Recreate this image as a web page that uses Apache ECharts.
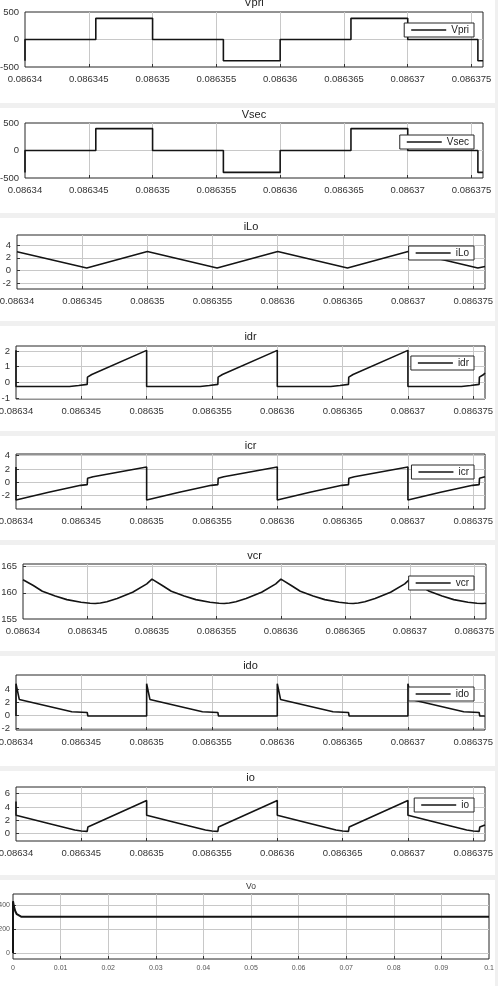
<!DOCTYPE html>
<html>
<head>
<meta charset="utf-8">
<script src="https://cdn.jsdelivr.net/npm/echarts@6/dist/echarts.min.js"></script>
<style>
  html, body { margin: 0; padding: 0; background: #f0f0f0; }
  #main { width: 498px; height: 986px; }
</style>
</head>
<body>
<div id="main"></div>
<script>
// tick values
var xTicks = [0.08634, 0.086345, 0.08635, 0.086355, 0.08636, 0.086365, 0.08637, 0.086375];
var voXTicks = [0, 0.01, 0.02, 0.03, 0.04, 0.05, 0.06, 0.07, 0.08, 0.09, 0.1];

// Vpri / Vsec (square waves)
var vpriT = [0.08634, 0.08634, 0.08634555, 0.08634555, 0.08635, 0.08635, 0.08635555, 0.08635555,
  0.08636, 0.08636, 0.08636555, 0.08636555, 0.08637, 0.08637, 0.0863755, 0.0863755, 0.0863759];
var vpriV = [-385, 0, 0, 385, 385, 0, 0, -385, -385, 0, 0, 385, 385, 0, 0, -385, -385];
var vsecT = [0.08634, 0.08634, 0.08634555, 0.08634555, 0.08635, 0.08635, 0.08635555, 0.08635555,
  0.08636, 0.08636, 0.08636555, 0.08636555, 0.08637, 0.08637, 0.0863755, 0.0863755, 0.0863759];
var vsecV = [-398, 0, 0, 398, 398, 0, 0, -398, -398, 0, 0, 398, 398, 0, 0, -398, -398];

// iLo
var iloT = [0.08634, 0.08634535, 0.08635, 0.08635535, 0.08636, 0.08636535, 0.08637, 0.08637535, 0.0863759];
var iloV = [2.95, 0.4, 3.0, 0.4, 3.0, 0.4, 3.0, 0.4, 0.65];

// idr
var idrT = [0.08634, 0.08634, 0.0863441, 0.0863448, 0.08634545, 0.08634547, 0.0863458, 0.08635,
  0.08635, 0.0863541, 0.0863548, 0.08635545, 0.08635547, 0.0863558, 0.08636,
  0.08636, 0.0863641, 0.0863648, 0.08636545, 0.08636547, 0.0863658, 0.08637,
  0.08637, 0.0863741, 0.0863748, 0.08637545, 0.08637547, 0.0863758, 0.0863759];
var idrV = [2.05, -0.27, -0.27, -0.2, -0.13, 0.33, 0.5, 2.05,
  -0.27, -0.27, -0.2, -0.13, 0.33, 0.5, 2.05,
  -0.27, -0.27, -0.2, -0.13, 0.33, 0.5, 2.05,
  -0.27, -0.27, -0.2, -0.13, 0.33, 0.5, 0.6];

// icr
var icrT = [0.08634, 0.08634, 0.0863425, 0.08634495, 0.08634545, 0.08634548, 0.0863459, 0.08635,
  0.08635, 0.0863525, 0.08635495, 0.08635545, 0.08635548, 0.0863559, 0.08636,
  0.08636, 0.0863625, 0.08636495, 0.08636545, 0.08636548, 0.0863659, 0.08637,
  0.08637, 0.0863725, 0.08637495, 0.08637545, 0.08637548, 0.0863759];
var icrV = [2.3, -2.65, -1.5, -0.45, -0.35, 0.6, 0.85, 2.3,
  -2.65, -1.5, -0.45, -0.35, 0.6, 0.85, 2.3,
  -2.65, -1.5, -0.45, -0.35, 0.6, 0.85, 2.3,
  -2.65, -1.5, -0.45, -0.35, 0.6, 0.85];

// vcr
var vcrT = [0.08634, 0.0863408, 0.0863415, 0.0863425, 0.0863434, 0.0863445, 0.0863452, 0.0863456,
  0.086346, 0.0863465, 0.0863473, 0.0863485, 0.0863496,
  0.08635, 0.0863508, 0.0863515, 0.0863525, 0.0863534, 0.0863545, 0.0863552, 0.0863556,
  0.086356, 0.0863565, 0.0863573, 0.0863585, 0.0863596,
  0.08636, 0.0863608, 0.0863615, 0.0863625, 0.0863634, 0.0863645, 0.0863652, 0.0863656,
  0.086366, 0.0863665, 0.0863673, 0.0863685, 0.0863696,
  0.08637, 0.0863708, 0.0863715, 0.0863725, 0.0863734, 0.0863745, 0.0863752, 0.0863756, 0.0863759];
var vcrV = [162.5, 161.4, 160.3, 159.4, 158.7, 158.2, 158.0, 157.95,
  158.05, 158.3, 158.9, 160.1, 161.7,
  162.6, 161.4, 160.3, 159.4, 158.7, 158.2, 158.0, 157.95,
  158.05, 158.3, 158.9, 160.1, 161.7,
  162.6, 161.4, 160.3, 159.4, 158.7, 158.2, 158.0, 157.95,
  158.05, 158.3, 158.9, 160.1, 161.7,
  162.6, 161.4, 160.3, 159.4, 158.7, 158.2, 158.0, 157.95, 158.0];

// ido
var idoT = [0.08634, 0.08634, 0.08634025, 0.08634427, 0.08634545, 0.0863455,
  0.08635, 0.08635, 0.08635025, 0.08635427, 0.08635545, 0.0863555,
  0.08636, 0.08636, 0.08636025, 0.08636427, 0.08636545, 0.0863655,
  0.08637, 0.08637, 0.08637025, 0.08637427, 0.08637545, 0.0863755, 0.0863759];
var idoV = [-0.15, 4.8, 2.4, 0.5, 0.4, -0.15,
  -0.15, 4.8, 2.4, 0.5, 0.4, -0.15,
  -0.15, 4.8, 2.4, 0.5, 0.4, -0.15,
  -0.15, 4.8, 2.4, 0.5, 0.4, -0.15, -0.15];

// io
var ioT = [0.08634, 0.08634, 0.0863425, 0.0863445, 0.086345, 0.08634545, 0.0863455,
  0.08635, 0.08635, 0.0863525, 0.0863545, 0.086355, 0.08635545, 0.0863555,
  0.08636, 0.08636, 0.0863625, 0.0863645, 0.086365, 0.08636545, 0.0863655,
  0.08637, 0.08637, 0.0863725, 0.0863745, 0.086375, 0.08637545, 0.0863755, 0.0863759];
var ioV = [4.8, 2.75, 1.5, 0.5, 0.35, 0.3, 0.95,
  4.95, 2.75, 1.5, 0.5, 0.35, 0.3, 0.95,
  4.95, 2.75, 1.5, 0.5, 0.35, 0.3, 0.95,
  4.95, 2.75, 1.5, 0.5, 0.35, 0.3, 0.95, 1.25];

// Vo (whole run)
var voT = [0, 0, 0.0002, 0.0005, 0.0008, 0.0012, 0.0017, 0.0025, 0.1];
var voV = [0, 430, 385, 345, 322, 309, 302, 300, 300];

function pairs(t, v) {
  return t.map(function (x, i) { return [x, v[i]]; });
}

var FONT = 'Liberation Sans, Arial, sans-serif';
var LINE = '#141414';

// panel layout: white box, plot rect [left, top, right, bottom], title top, legend top
var panels = [
  {name: 'Vpri', t: vpriT, v: vpriV, yMin: -500, yMax: 500, yTicks: [-500, 0, 500], box: [0, 103], plot: [25, 12, 483, 67], title: -3, legend: 23},
  {name: 'Vsec', t: vsecT, v: vsecV, yMin: -500, yMax: 500, yTicks: [-500, 0, 500], box: [108, 213], plot: [25, 123, 483, 178], title: 109, legend: 135},
  {name: 'iLo', t: iloT, v: iloV, yMin: -2.9, yMax: 5.6, yTicks: [-2, 0, 2, 4], box: [218, 321], plot: [17, 235, 485, 289], title: 221, legend: 246},
  {name: 'idr', t: idrT, v: idrV, yMin: -1.07, yMax: 2.33, yTicks: [-1, 0, 1, 2], box: [326, 431], plot: [16, 346, 485, 399], title: 331, legend: 356},
  {name: 'icr', t: icrT, v: icrV, yMin: -4, yMax: 4.25, yTicks: [-2, 0, 2, 4], box: [436, 540], plot: [16, 454, 485, 509], title: 440, legend: 465},
  {name: 'vcr', t: vcrT, v: vcrV, yMin: 155, yMax: 165.5, yTicks: [155, 160, 165], box: [545, 651], plot: [23, 564, 486, 619], title: 550, legend: 576},
  {name: 'ido', t: idoT, v: idoV, yMin: -2.3, yMax: 6.15, yTicks: [-2, 0, 2, 4], box: [656, 766], plot: [16, 675, 485, 730], title: 660, legend: 687},
  {name: 'io', t: ioT, v: ioV, yMin: -1.15, yMax: 7, yTicks: [0, 2, 4, 6], box: [771, 875], plot: [16, 787, 485, 841], title: 772, legend: 798}
];

var option = {
  animation: false,
  title: [], legend: [], grid: [], xAxis: [], yAxis: [], series: [], graphic: []
};

function inner(ticks, lo, hi) {
  return ticks.filter(function (v) { return v > lo && v < hi; });
}

function addPanel(i, p, xMin, xMax, xt, small) {
  var g = p.plot;
  var fs = small ? 7 : 9.5;
  var lc = small ? '#555' : '#333';
  option.graphic.push({
    type: 'rect', silent: true, z: -10,
    shape: {x: 0, y: p.box[0], width: 495, height: p.box[1] - p.box[0]},
    style: {fill: '#ffffff'}
  });
  option.title.push({
    text: p.name, left: (g[0] + g[2]) / 2, top: p.title, textAlign: 'center', padding: 0,
    textStyle: {fontSize: small ? 8.5 : 11, fontWeight: 'normal', color: small ? '#333' : '#222', fontFamily: FONT}
  });
  option.grid.push({
    left: g[0], top: g[1], width: g[2] - g[0], height: g[3] - g[1],
    show: true, borderColor: '#262626', borderWidth: 1, backgroundColor: '#ffffff',
    containLabel: false, outerBoundsMode: 'none'
  });
  option.xAxis.push({
    type: 'value', gridIndex: i, min: xMin, max: xMax,
    axisLine: {show: false, onZero: false},
    axisTick: {show: true, inside: true, length: 3, customValues: inner(xt, xMin, xMax), lineStyle: {color: '#333'}},
    axisLabel: {customValues: xt, formatter: function (v) { return String(v); },
      fontSize: fs, color: lc, margin: small ? 6 : 7, fontFamily: FONT},
    splitLine: {show: true, lineStyle: {color: '#c8c8c8', width: 1}}
  });
  option.yAxis.push({
    type: 'value', gridIndex: i, min: p.yMin, max: p.yMax,
    axisLine: {show: false, onZero: false},
    axisTick: {show: true, inside: true, length: 3, customValues: inner(p.yTicks, p.yMin, p.yMax), lineStyle: {color: '#333'}},
    axisLabel: {customValues: p.yTicks, formatter: function (v) { return String(v); },
      fontSize: fs, color: lc, margin: small ? 3 : 6, fontFamily: FONT},
    splitLine: {show: true, lineStyle: {color: '#c8c8c8', width: 1}}
  });
  option.series.push({
    type: 'line', name: p.name, xAxisIndex: i, yAxisIndex: i,
    data: pairs(p.t, p.v), showSymbol: false, symbol: 'none', clip: true,
    lineStyle: {color: LINE, width: small ? 2 : 1.6}, itemStyle: {color: LINE},
    emphasis: {disabled: true}
  });
  if (p.legend != null) {
    option.legend.push({
      data: [p.name], right: 24, top: p.legend, icon: 'rect', itemWidth: 35, itemHeight: 1.5,
      padding: [2, 5, 2, 7], borderColor: '#262626', borderWidth: 1, borderRadius: 0,
      backgroundColor: '#ffffff', selectedMode: false,
      textStyle: {fontSize: 10, color: '#222', fontFamily: FONT}
    });
  }
}

panels.forEach(function (p, i) {
  addPanel(i, p, 0.08634, 0.0863759, xTicks, false);
});

addPanel(8, {
  name: 'Vo', t: voT, v: voV, yMin: -50, yMax: 490, yTicks: [0, 200, 400],
  box: [880, 986], plot: [13, 894, 489, 959], title: 882, legend: null
}, 0, 0.1, voXTicks, true);

var chart = echarts.init(document.getElementById('main'));
chart.setOption(option);
</script>
</body>
</html>
